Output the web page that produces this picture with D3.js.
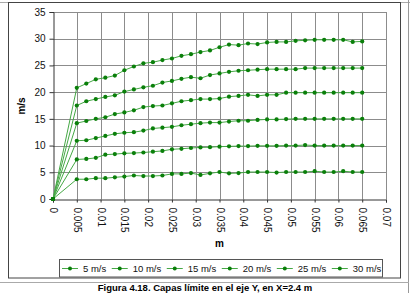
<!DOCTYPE html>
<html><head><meta charset="utf-8">
<script src="https://cdn.jsdelivr.net/npm/d3@7"></script>
<style>
html,body{margin:0;padding:0;background:#fff;}
svg{display:block;font-family:"Liberation Sans",Arial,sans-serif;}
</style></head>
<body><svg id="c" width="410" height="293"></svg>
<script>
// ---- data ----
const xValues = [0, 0.005, 0.007, 0.009, 0.011, 0.013, 0.015, 0.017, 0.019, 0.021, 0.023, 0.025, 0.027, 0.029, 0.031, 0.033, 0.035, 0.037, 0.039, 0.041, 0.043, 0.045, 0.047, 0.049, 0.051, 0.053, 0.055, 0.057, 0.059, 0.061, 0.063, 0.065];
const seriesNames = ["5 m/s", "10 m/s", "15 m/s", "20 m/s", "25 m/s", "30 m/s"];
const s5  = [0, 3.7, 3.7, 3.9, 3.9, 4.05, 4.2, 4.4, 4.3, 4.3, 4.4, 4.7, 4.7, 4.85, 4.5, 4.8, 5.05, 4.8, 4.85, 5.05, 5.05, 5.05, 4.95, 5.05, 5.05, 5.05, 5.2, 5.05, 5.05, 5.2, 5.05, 5.05];
const s10 = [0, 7.4, 7.5, 7.7, 8.3, 8.4, 8.55, 8.6, 8.7, 8.85, 9.0, 9.3, 9.4, 9.55, 9.65, 9.7, 9.8, 9.85, 9.9, 9.9, 9.95, 9.95, 9.95, 10.0, 10.0, 10.1, 10.0, 10.0, 10.0, 10.0, 10.0, 10.0];
const s15 = [0, 10.9, 11.0, 11.4, 11.8, 12.2, 12.4, 12.5, 12.8, 13.2, 13.35, 13.5, 13.8, 14.0, 14.2, 14.3, 14.3, 14.5, 14.65, 14.65, 14.8, 14.9, 14.9, 14.95, 15.0, 15.0, 15.0, 15.0, 15.0, 15.0, 15.0, 15.0];
const s20 = [0, 14.2, 14.6, 15.0, 15.3, 15.9, 16.2, 16.6, 17.2, 17.4, 17.5, 17.9, 18.3, 18.5, 18.7, 18.7, 18.8, 19.15, 19.3, 19.5, 19.3, 19.5, 19.5, 19.9, 19.9, 19.9, 19.9, 19.9, 19.9, 19.9, 19.9, 19.9];
const s25 = [0, 17.5, 18.3, 18.7, 19.1, 19.4, 20.1, 20.5, 20.9, 21.2, 21.8, 22.1, 22.5, 22.8, 22.6, 23.2, 23.5, 23.8, 24.0, 24.1, 24.2, 24.3, 24.3, 24.3, 24.3, 24.5, 24.5, 24.5, 24.5, 24.5, 24.5, 24.5];
const s30 = [0, 20.8, 21.6, 22.4, 22.7, 23.1, 24.1, 24.8, 25.4, 25.6, 26.0, 26.3, 26.8, 27.1, 27.5, 27.8, 28.4, 28.9, 28.8, 29.1, 29.0, 29.3, 29.4, 29.4, 29.6, 29.7, 29.8, 29.8, 29.8, 29.8, 29.4, 29.5];
const seriesValues = [s5, s10, s15, s20, s25, s30];
const xTicks = [0, 0.005, 0.01, 0.015, 0.02, 0.025, 0.03, 0.035, 0.04, 0.045, 0.05, 0.055, 0.06, 0.065, 0.07];
const yTicks = [0, 5, 10, 15, 20, 25, 30, 35];
const xTitle = "m", yTitle = "m/s";
const caption = "Figura 4.18. Capas límite en el eje Y, en X=2.4 m";

// ---- drawing ----
const svg = d3.select("#c");
const x = d3.scaleLinear().domain([0, 0.07]).range([53, 386]);
const y = d3.scaleLinear().domain([0, 35]).range([199, 12]);
const lineCol = "#45a845", markCol = "#0a7f0a";

// frames
svg.append("line").attr("x1",0).attr("x2",410).attr("y1",2.5).attr("y2",2.5).attr("stroke","#aaa");
svg.append("line").attr("x1",408.5).attr("x2",408.5).attr("y1",0).attr("y2",293).attr("stroke","#999");
svg.append("line").attr("x1",0).attr("x2",409).attr("y1",282.5).attr("y2",282.5).attr("stroke","#aaa");
svg.append("rect").attr("x",8.5).attr("y",2.5).attr("width",392).attr("height",275.5)
  .attr("fill","#fff").attr("stroke","#444");

// grid
const g = svg.append("g");
g.selectAll(".gx").data(xTicks.slice(1)).join("line")
  .attr("x1",d=>Math.round(x(d))+0.5).attr("x2",d=>Math.round(x(d))+0.5)
  .attr("y1",y(35)).attr("y2",y(0)).attr("stroke","#8c8c8c");
g.selectAll(".gy").data(yTicks.slice(1)).join("line")
  .attr("y1",d=>Math.round(y(d))+0.5).attr("y2",d=>Math.round(y(d))+0.5)
  .attr("x1",x(0)).attr("x2",x(0.07)).attr("stroke","#8c8c8c");

// axes
const fmt = v => String(+v.toFixed(3));
const ya = svg.append("g").attr("transform","translate(53.5,0)")
  .call(d3.axisLeft(y).tickValues(yTicks).tickSize(4).tickPadding(4).tickFormat(d=>d));
ya.select(".domain").attr("stroke","#333");
ya.selectAll(".tick line").attr("stroke","#333");
ya.selectAll("text").attr("font-size",10).attr("fill","#111").attr("font-family","Liberation Sans, Arial, sans-serif");

const xa = svg.append("g").attr("transform","translate(0,199.5)")
  .call(d3.axisBottom(x).tickValues(xTicks).tickSize(3).tickFormat(fmt));
xa.select(".domain").attr("stroke","#333");
xa.selectAll(".tick line").attr("stroke","#333");
xa.selectAll("text").attr("font-size",10).attr("fill","#111").attr("font-family","Liberation Sans, Arial, sans-serif")
  .attr("transform","rotate(90)").attr("text-anchor","start")
  .attr("x",8).attr("y",0).attr("dy","0.35em");

// titles
svg.append("text").attr("x",219.5).attr("y",247).attr("text-anchor","middle")
  .attr("font-size",10).attr("font-weight","bold").text(xTitle);
svg.append("text").attr("transform","translate(25,106) rotate(-90)").attr("text-anchor","middle")
  .attr("font-size",10).attr("font-weight","bold").text(yTitle);

// series
const line = d3.line().x((d,i)=>x(xValues[i])).y(d=>y(d));
seriesValues.forEach(vals => {
  svg.append("path").datum(vals).attr("d",line).attr("fill","none")
    .attr("stroke",lineCol).attr("stroke-width",1);
});
seriesValues.forEach(vals => {
  svg.append("g").selectAll("circle").data(vals).join("circle")
    .attr("cx",(d,i)=>x(xValues[i])).attr("cy",d=>y(d)).attr("r",2.1).attr("fill",markCol);
});

// legend
const lg = svg.append("g");
lg.append("rect").attr("x",59.5).attr("y",259.5).attr("width",323).attr("height",17.5)
  .attr("fill","#fff").attr("stroke","#555");
let lx = 62;
seriesNames.forEach(name => {
  lg.append("line").attr("x1",lx).attr("x2",lx+16).attr("y1",268.5).attr("y2",268.5)
    .attr("stroke",lineCol).attr("stroke-width",1);
  lg.append("circle").attr("cx",lx+8).attr("cy",268.5).attr("r",2).attr("fill",markCol);
  const t = lg.append("text").attr("x",lx+21).attr("y",272).attr("font-size",9.5).attr("fill","#111").text(name);
  lx += 21 + t.node().getComputedTextLength() + 5.5;
});

// caption
svg.append("text").attr("x",205).attr("y",291).attr("text-anchor","middle")
  .attr("font-size",9.5).attr("font-weight","bold").text(caption);
</script></body></html>
